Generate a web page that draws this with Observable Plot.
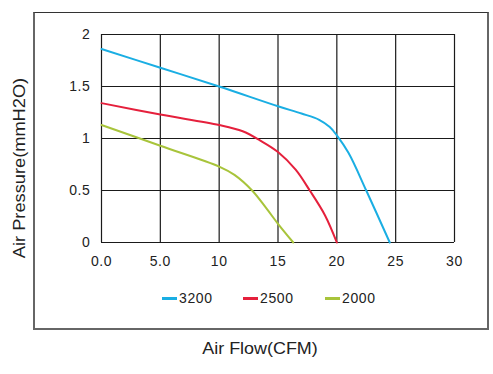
<!DOCTYPE html>
<html><head><meta charset="utf-8">
<script src="https://cdn.jsdelivr.net/npm/d3@7"></script>
<script src="https://cdn.jsdelivr.net/npm/@observablehq/plot@0.6"></script>
<style>
body{margin:0;background:#fff;font-family:"Liberation Sans",Arial,sans-serif;}
#wrap{position:relative;width:493px;height:374px;}
#box{position:absolute;left:33px;top:12px;width:452px;height:315px;border-top:1px solid #333;border-left:2px solid #666;border-right:2px solid #666;border-bottom:2px solid #666;box-sizing:content-box;}
#legend{position:absolute;top:290px;left:0;width:493px;height:16px;font-size:14px;letter-spacing:0.6px;color:#222;}
.item{position:absolute;top:0;display:flex;align-items:center;}
.sw{display:inline-block;width:15px;height:3px;margin-right:2px;}
#xlabel{position:absolute;top:340px;left:260px;transform:translateX(-50%) scaleX(1.12);white-space:nowrap;font-size:16px;color:#222;}
#ylabel{position:absolute;left:20px;top:168px;transform:translate(-50%,-50%) rotate(-90deg) scaleX(1.14);white-space:nowrap;font-size:16px;color:#222;}
</style></head>
<body><div id="wrap"><div id="box"></div><div id="chart"></div><div id="legend"></div><div id="xlabel">Air Flow(CFM)</div><div id="ylabel">Air Pressure(mmH2O)</div></div>
<script>
const seriesNames = ["3200","2500","2000"];
const seriesColors = ["#1aaee3","#e5203c","#a8c43b"];
const flow3200 = [0,5,10,15,17,18.5,19.4,20,21,22.5,24.5];
const pres3200 = [1.86,1.68,1.5,1.31,1.24,1.18,1.11,1.03,0.86,0.5,0];
const flow2500 = [0,5,10,12,13.5,15,16.5,17.7,19,20];
const pres2500 = [1.34,1.23,1.13,1.07,0.98,0.87,0.7,0.5,0.26,0];
const flow2000 = [0,5,10,11.3,12.8,14,15,16.3];
const pres2000 = [1.13,0.93,0.73,0.65,0.5,0.33,0.18,0];
const xTicks = [0,5,10,15,20,25,30];
const xTickLabels = ["0.0","5.0","10","15","20","25","30"];
const yTicks = [0,0.5,1,1.5,2];
const yTickLabels = ["0","0.5","1","1.5","2"];

const flows = [flow3200, flow2500, flow2000];
const press = [pres3200, pres2500, pres2000];
const data = [];
seriesNames.forEach((s,i)=>flows[i].forEach((f,j)=>data.push({series:s, flow:f, p:press[i][j]})));

const chart = Plot.plot({
  width:493, height:374,
  marginLeft:101, marginTop:34, marginRight:39, marginBottom:132,
  style:{fontFamily:"Liberation Sans, Arial, sans-serif", fontSize:"14px", letterSpacing:"0.6px", color:"#222", background:"transparent"},
  x:{domain:[0,30], ticks:xTicks, tickFormat:(d)=>xTickLabels[xTicks.indexOf(d)], tickSize:0, tickPadding:14, label:null},
  y:{domain:[0,2], ticks:yTicks, tickFormat:(d)=>yTickLabels[yTicks.indexOf(d)], tickSize:0, tickPadding:11, label:null},
  color:{domain:seriesNames, range:seriesColors},
  marks:[
    Plot.ruleX(xTicks, {stroke:"#1a1a1a", strokeWidth:1.2}),
    Plot.ruleY(yTicks, {stroke:"#1a1a1a", strokeWidth:1.2}),
    Plot.line(data, {x:"flow", y:"p", z:"series", stroke:"series", strokeWidth:2, curve:"catmull-rom"})
  ]
});
document.getElementById("chart").appendChild(chart);

const legend = document.getElementById("legend");
const lx = [162, 243, 325];
seriesNames.forEach((s,i)=>{
  const it = document.createElement("div");
  it.className="item"; it.style.left = lx[i]+"px";
  it.innerHTML = `<span class="sw" style="background:${seriesColors[i]}"></span><span>${s}</span>`;
  legend.appendChild(it);
});
</script></body></html>
